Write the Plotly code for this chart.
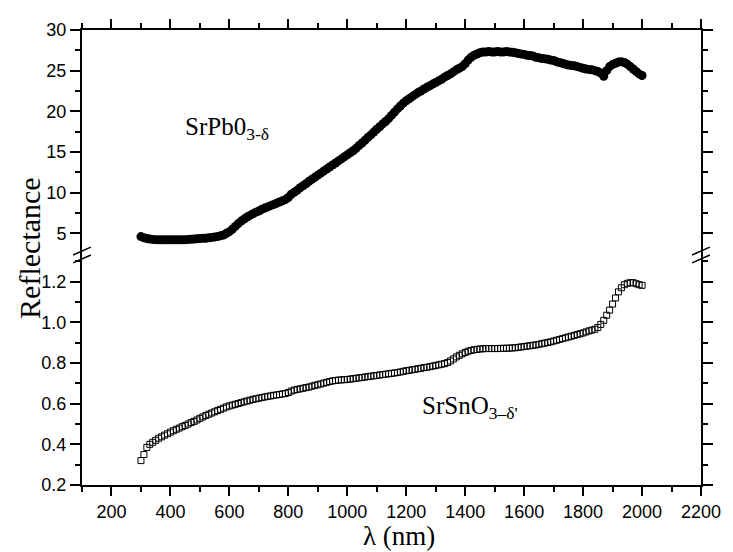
import plotly.graph_objects as go

# Wavelength grid (nm), 10 nm steps from 300 to 2000
wavelength = list(range(300, 2001, 10))

# SrPbO3-δ reflectance (top panel)
srpbo3 = [
    4.6, 4.45, 4.35, 4.3, 4.25, 4.22, 4.2, 4.2, 4.2, 4.2,          # 300-390
    4.2, 4.2, 4.2, 4.2, 4.2, 4.22, 4.25, 4.27, 4.3, 4.32,          # 400-490
    4.35, 4.38, 4.4, 4.45, 4.5, 4.55, 4.6, 4.7, 4.8, 5.0,          # 500-590
    5.2, 5.5, 5.85, 6.2, 6.5, 6.75, 7.0, 7.2, 7.4, 7.6,            # 600-690
    7.75, 7.95, 8.1, 8.25, 8.4, 8.55, 8.7, 8.85, 9.0, 9.15,        # 700-790
    9.4, 9.8, 10.05, 10.3, 10.6, 10.85, 11.1, 11.4, 11.65, 11.9,   # 800-890
    12.15, 12.4, 12.65, 12.9, 13.15, 13.4, 13.65, 13.9, 14.15, 14.4,  # 900-990
    14.65, 14.9, 15.15, 15.45, 15.8, 16.1, 16.45, 16.8, 17.1, 17.45,  # 1000-1090
    17.8, 18.1, 18.45, 18.75, 19.1, 19.5, 19.9, 20.3, 20.65, 21.0,    # 1100-1190
    21.3, 21.55, 21.8, 22.05, 22.3, 22.5, 22.75, 22.95, 23.15, 23.35, # 1200-1290
    23.55, 23.75, 23.95, 24.2, 24.4, 24.6, 24.85, 25.1, 25.3, 25.5,   # 1300-1390
    25.85, 26.3, 26.65, 26.9, 27.05, 27.2, 27.3, 27.3, 27.35, 27.3,   # 1400-1490
    27.3, 27.35, 27.3, 27.3, 27.35, 27.3, 27.25, 27.2, 27.1, 27.05,   # 1500-1590
    27.0, 26.9, 26.85, 26.8, 26.65, 26.6, 26.5, 26.45, 26.4, 26.3,    # 1600-1690
    26.25, 26.1, 26.0, 25.9, 25.8, 25.7, 25.65, 25.6, 25.5, 25.4,     # 1700-1790
    25.3, 25.2, 25.15, 25.1, 25.0, 24.9, 24.7, 24.3, 25.0, 25.5,      # 1800-1890
    25.75, 25.9, 26.05, 26.1, 26.0, 25.8, 25.5, 25.2, 24.9, 24.6,     # 1900-1990
    24.4,                                                             # 2000
]

# SrSnO3-δ reflectance (bottom panel)
srsno3 = [
    0.32, 0.35, 0.385, 0.40, 0.41, 0.42, 0.43, 0.437, 0.445, 0.452,       # 300-390
    0.46, 0.467, 0.474, 0.48, 0.487, 0.493, 0.50, 0.507, 0.513, 0.52,     # 400-490
    0.528, 0.535, 0.542, 0.548, 0.554, 0.56, 0.566, 0.572, 0.578, 0.584,  # 500-590
    0.589, 0.593, 0.597, 0.601, 0.605, 0.609, 0.613, 0.617, 0.621, 0.624, # 600-690
    0.627, 0.63, 0.633, 0.636, 0.638, 0.641, 0.643, 0.645, 0.648, 0.65,   # 700-790
    0.655, 0.662, 0.667, 0.67, 0.673, 0.676, 0.679, 0.682, 0.686, 0.69,   # 800-890
    0.693, 0.697, 0.701, 0.705, 0.709, 0.712, 0.714, 0.716, 0.717, 0.718, # 900-990
    0.719, 0.721, 0.723, 0.725, 0.727, 0.729, 0.731, 0.733, 0.735, 0.737, # 1000-1090
    0.739, 0.741, 0.743, 0.745, 0.747, 0.749, 0.751, 0.753, 0.756, 0.759, # 1100-1190
    0.762, 0.764, 0.767, 0.769, 0.772, 0.774, 0.777, 0.779, 0.782, 0.785, # 1200-1290
    0.788, 0.791, 0.794, 0.797, 0.802, 0.81, 0.82, 0.83, 0.838, 0.845,    # 1300-1390
    0.852, 0.858, 0.862, 0.865, 0.867, 0.869, 0.87, 0.871, 0.871, 0.871,  # 1400-1490
    0.871, 0.871, 0.872, 0.872, 0.873, 0.873, 0.874, 0.875, 0.877, 0.879, # 1500-1590
    0.881, 0.883, 0.885, 0.887, 0.889, 0.892, 0.895, 0.898, 0.901, 0.904, # 1600-1690
    0.908, 0.912, 0.916, 0.92, 0.924, 0.928, 0.932, 0.936, 0.94, 0.944,   # 1700-1790
    0.948, 0.953, 0.958, 0.962, 0.966, 0.975, 0.99, 1.01, 1.035, 1.06,    # 1800-1890
    1.09, 1.12, 1.15, 1.17, 1.185, 1.192, 1.195, 1.195, 1.19, 1.185,      # 1900-1990
    1.182,                                                                # 2000
]

x_ticks = [200, 400, 600, 800, 1000, 1200, 1400, 1600, 1800, 2000, 2200]
x_minor = [100, 300, 500, 700, 900, 1100, 1300, 1500, 1700, 1900, 2100]
top_ticks = [5, 10, 15, 20, 25, 30]
top_minor = [7.5, 12.5, 17.5, 22.5, 27.5]
bottom_ticks = [0.2, 0.4, 0.6, 0.8, 1.0, 1.2]
bottom_minor = [0.3, 0.5, 0.7, 0.9, 1.1, 1.3]

# The page body has an 8 px margin, so the figure starts at (8, 8) in the window.
OFF = 8
WIN_W, WIN_H = 733, 552
PLOT_L, PLOT_R, PLOT_T, PLOT_B = 82, 710, 24, 485   # window pixels of the plot frame
W, H = WIN_W - OFF, WIN_H - OFF
ML, MT = PLOT_L - OFF, PLOT_T - OFF
MR, MB = WIN_W - PLOT_R, WIN_H - PLOT_B
PW, PH = PLOT_R - PLOT_L, PLOT_B - PLOT_T
BREAK_PX = 252  # window pixel y of the axis break
split = (PLOT_B - BREAK_PX) / PH

SERIF = "Liberation Serif"
SANS = "Liberation Sans"

fig = go.Figure()
fig.add_trace(go.Scatter(
    x=wavelength, y=srpbo3, xaxis="x2", yaxis="y2", mode="markers",
    marker=dict(symbol="circle", size=9, color="black", line=dict(width=0)),
    showlegend=False, cliponaxis=False,
))
fig.add_trace(go.Scatter(
    x=wavelength, y=srsno3, xaxis="x", yaxis="y", mode="markers",
    marker=dict(symbol="square-open", size=6, color="black", line=dict(width=1)),
    showlegend=False, cliponaxis=False,
))

axis_common = dict(
    showgrid=False, zeroline=False, showline=True, linecolor="black", linewidth=2,
    ticks="outside", tickcolor="black", tickwidth=1.5,
    tickfont=dict(family=SANS, size=18, color="black"),
)

def minor(vals):
    return dict(ticks="outside", tickvals=vals, ticklen=5, tickwidth=1.5, tickcolor="black")

fig.update_layout(
    width=W, height=H,
    margin=dict(l=ML, r=MR, t=MT, b=MB, pad=0),
    paper_bgcolor="white", plot_bgcolor="white",
    xaxis=dict(
        domain=[0, 1], anchor="y", range=[100, 2200],
        tickvals=x_ticks, ticklen=9, minor=minor(x_minor), **axis_common,
    ),
    xaxis2=dict(
        domain=[0, 1], anchor="y2", matches="x", side="top", range=[100, 2200],
        tickvals=x_ticks, ticklen=9, showticklabels=False, minor=minor(x_minor), **axis_common,
    ),
    yaxis=dict(
        domain=[0, split], anchor="x", range=[0.2, 0.2 + (PLOT_B - BREAK_PX) / 206.0],
        tickvals=bottom_ticks, tickformat=".1f", ticklen=10, mirror="ticks",
        minor=minor(bottom_minor), **axis_common,
    ),
    yaxis2=dict(
        domain=[split, 1], anchor="x2", range=[30 - (BREAK_PX - PLOT_T) / 8.24, 30],
        tickvals=top_ticks, ticklen=10, mirror="ticks",
        minor=minor(top_minor), **axis_common,
    ),
)

def px(xp):
    return (xp - PLOT_L) / PW

def py(yp):
    return (PLOT_B - yp) / PH

# axis break marks
for xa in (PLOT_L, PLOT_R):
    for off in (-4, 4):
        fig.add_shape(type="line", xref="paper", yref="paper",
                      x0=px(xa - 9), y0=py(BREAK_PX + off + 4),
                      x1=px(xa + 9), y1=py(BREAK_PX + off - 4),
                      line=dict(color="black", width=1.5))

fig.add_annotation(text="SrPb0<sub>3-δ</sub>", xref="paper", yref="paper",
                   x=px(184), y=py(124), xanchor="left", yanchor="middle",
                   showarrow=False, font=dict(family=SERIF, size=25, color="black"))
fig.add_annotation(text="SrSnO<sub>3–δ'</sub>", xref="paper", yref="paper",
                   x=px(425), y=py(406), xanchor="left", yanchor="middle",
                   showarrow=False, font=dict(family=SERIF, size=25, color="black"))
fig.add_annotation(text="Reflectance", xref="paper", yref="paper",
                   x=px(28), y=py(245), xanchor="center", yanchor="middle", textangle=-90,
                   showarrow=False, font=dict(family=SERIF, size=30, color="black"))
fig.add_annotation(text="λ (nm)", xref="paper", yref="paper",
                   x=px(404), y=py(537), xanchor="center", yanchor="middle",
                   showarrow=False, font=dict(family=SERIF, size=27, color="black"))

fig.write_html("out.html")
